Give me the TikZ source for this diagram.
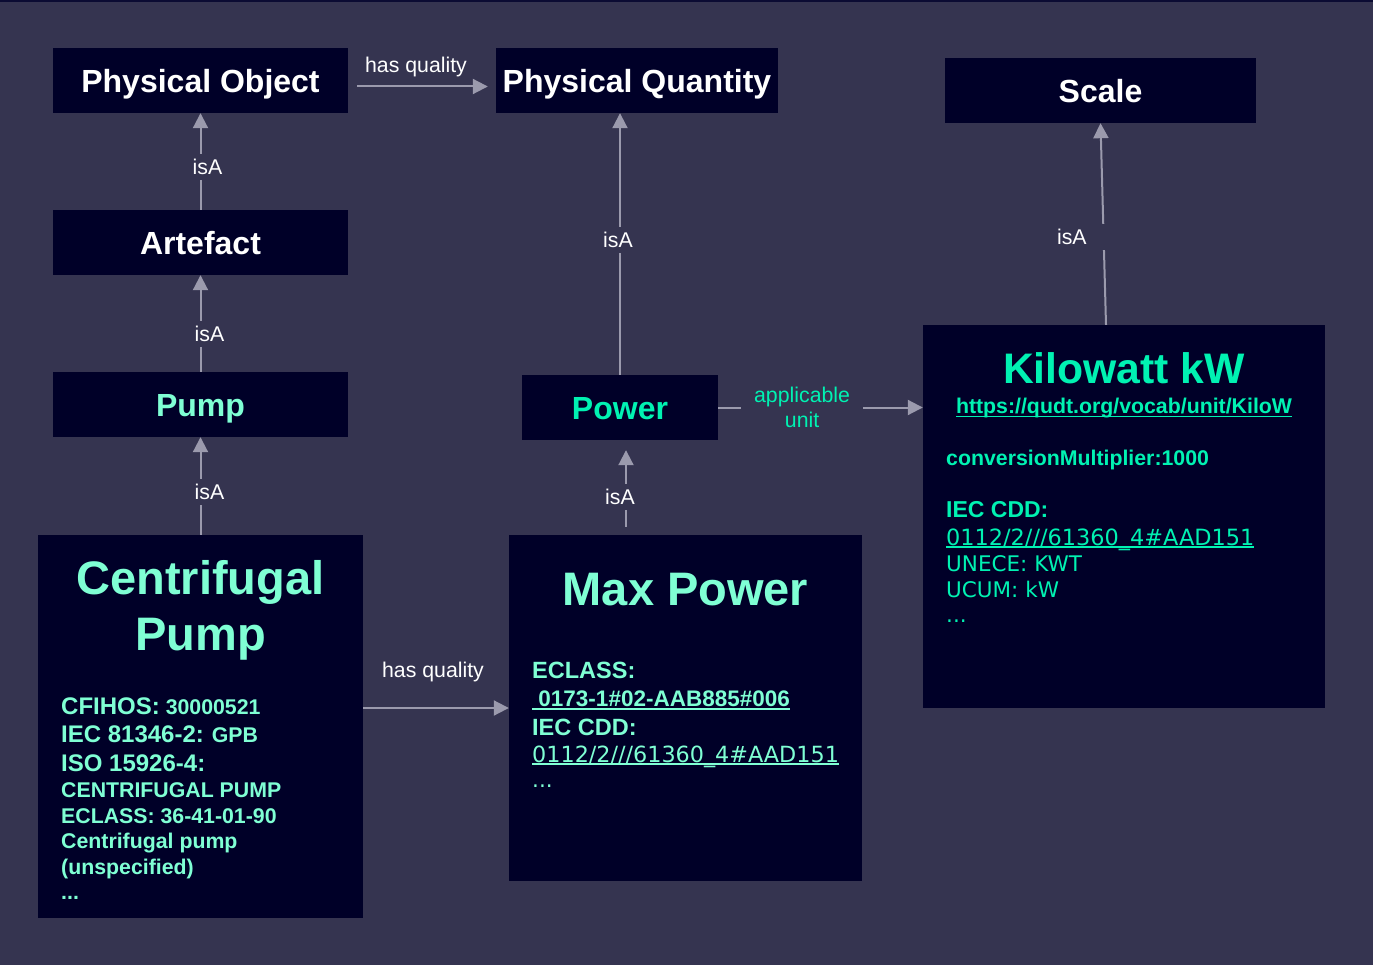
\documentclass[tikz,border=0pt]{standalone}
\usepackage{fontspec}
\setmainfont{Liberation Sans}
\newfontfamily\vfont{DejaVu Sans}
\usetikzlibrary{arrows.meta,calc}

\definecolor{bgc}{HTML}{353450}
\definecolor{boxc}{HTML}{000028}
\definecolor{edgec}{HTML}{0B0B33}
\definecolor{linkc}{HTML}{9B9AAD}
\definecolor{aqua}{HTML}{7FFFD4}
\definecolor{mint}{HTML}{00F2B2}

% font size shortcut: \sz{size}{baselineskip}
\newcommand\sz[2]{\fontsize{#1}{#2}\selectfont}
% underlined link text: \ulink[drop below baseline]{text}
\newcommand\ulink[2][2.5pt]{\leavevmode\setbox0\hbox{#2}\rlap{\rule[-#1]{\wd0}{1.4pt}}\box0}

\begin{document}
\begin{tikzpicture}[x=1pt,y=-1pt,
  box/.style={fill=boxc, inner sep=0pt},
  title/.style={font=\bfseries\sz{32}{36}, text=white, text height=24.5pt, text depth=0pt},
  arr/.style={draw=linkc, line width=2pt, -{Triangle[length=15pt,width=15pt]}},
  lbl/.style={font=\sz{21.3}{25}, text=white, fill=bgc, inner xsep=3pt, inner ysep=5pt},
  qual/.style={font=\sz{21.3}{25}, text=white, anchor=base},
]
\fill[bgc] (0,0) rectangle (1373,965);
\useasboundingbox (0,0) rectangle (1373,965);
\fill[edgec] (0,0) rectangle (1373,2);

% class boxes
\node[box, title, minimum width=295pt, minimum height=65pt] (po) at (200.5,80.5) {Physical Object};
\node[box, title, minimum width=282pt, minimum height=65pt] (pq) at (637,80.5) {Physical Quantity};
\node[box, title, minimum width=311pt, minimum height=65pt] (scale) at (1100.5,90.5) {Scale};
\node[box, title, minimum width=295pt, minimum height=65pt] (art) at (200.5,242.5) {Artefact};
\node[box, title, text=aqua, minimum width=295pt, minimum height=65pt] (pump) at (200.5,404.5) {Pump};
\node[box, title, text=mint, minimum width=196pt, minimum height=65pt] (power) at (620,407.5) {Power};

% detail boxes
\node[box, minimum width=325pt, minimum height=383pt] (cp) at (200.5,726.5) {};
\node[box, minimum width=353pt, minimum height=346pt] (mp) at (685.5,708) {};
\node[box, minimum width=402pt, minimum height=383pt] (kw) at (1124,516.5) {};

% Centrifugal Pump
\node[anchor=base, text=aqua, font=\bfseries, inner sep=0pt] (cpt) at (200.5,594)
  {\parbox[t]{320pt}{\centering\sz{47}{56}Centrifugal\\Pump}};
\node[anchor=base west, text=aqua, font=\bfseries, inner sep=0pt] (cpb) at (61,714)
  {\parbox[t]{295pt}{\raggedright\sz{21.3}{25.5}%
  {\sz{24}{25.5}CFIHOS:} 30000521\\[2.5pt]
  {\sz{24}{25.5}IEC 81346-2:} GPB\\[4pt]
  {\sz{24}{25.5}ISO 15926-4:}\\[0.5pt]
  CENTRIFUGAL PUMP\\
  ECLASS: 36-41-01-90\\
  Centrifugal pump\\
  (unspecified)\\
  ...}};

% Max Power
\node[anchor=base, text=aqua, font=\bfseries\sz{47}{56}, inner sep=0pt] (mpt) at (685.5,605) {Max Power};
\node[anchor=base west, text=aqua, inner sep=0pt] (mpb) at (532,678)
  {\parbox[t]{325pt}{\raggedright\sz{23.5}{27}%
  \textbf{ECLASS:}\\[1pt]
  {\bfseries\sz{22.5}{27}\ulink[3.5pt]{\ 0173-1\#02-AAB885\#006}}\\[2pt]
  \textbf{IEC CDD:}\\
  {\vfont\sz{22.3}{27}\ulink[2.5pt]{0112/2///61360\_4\#AAD151}}\\[-2pt]
  {\vfont\sz{21.5}{27}...}}};

% Kilowatt
\node[anchor=base, text=mint, font=\bfseries\sz{42.7}{48}, inner sep=0pt] (kwt) at (1124,383) {Kilowatt kW};
\node[anchor=base, text=mint, font=\bfseries\sz{21.3}{25}, inner sep=0pt] (kwu) at (1124,413)
  {\ulink[4pt]{https://qudt.org/vocab/unit/KiloW}};
\node[anchor=base west, text=mint, inner sep=0pt] (kwb) at (946,465)
  {\parbox[t]{370pt}{\raggedright\sz{21.3}{26}%
  \textbf{conversionMultiplier:1000}\\[26pt]
  {\bfseries\sz{23}{26}IEC CDD:}\\[2pt]
  {\vfont\sz{22.4}{26}\ulink{0112/2///61360\_4\#AAD151}}\\
  {\vfont\sz{21.5}{26}UNECE: KWT}\\
  {\vfont\sz{21.5}{26}UCUM: kW}\\[-1pt]
  {\vfont\sz{21.5}{26}...}}};

% isA links
\draw[arr] (art.north) -- node[lbl, pos=0.44, xshift=7pt] (l1) {isA} (po.south);
\draw[arr] (pump.north) -- node[lbl, pos=0.39, xshift=9pt] (l2) {isA} (art.south);
\draw[arr] (cp.north) -- node[lbl, pos=0.44, xshift=9pt] (l3) {isA} (pump.south);
\draw[arr] (power.north) -- node[lbl, pos=0.515, xshift=-2pt] (l4) {isA} (power.north |- pq.south);
\draw[arr, shorten <=8pt, shorten >=10pt] ($(power.south |- mp.north)+(6,0)$)
  -- node[lbl, pos=0.4, xshift=-6pt] (l5) {isA} ($(power.south)+(6,0)$);
\draw[arr] ($(kw.north)+(-18,0)$)
  -- node[lbl, pos=0.435, anchor=east, inner xsep=18pt, xshift=2pt] (l6) {isA} (scale.south);

% has quality links
\draw[arr, shorten <=9pt, shorten >=8pt] ($(po.east)+(0,6)$)
  -- node[qual, pos=0.5, xshift=-6pt, yshift=14pt] (hq1) {has quality} ($(pq.west)+(0,6)$);
\draw[arr] (mp.west -| cp.east)
  -- node[qual, pos=0.5, xshift=-3pt, yshift=31pt] (hq2) {has quality} (mp.west);

% applicable unit link
\draw[arr] (power.east)
  -- node[pos=0.41, fill=bgc, text=mint, font=\sz{21.3}{25}, align=center, inner xsep=13pt, inner ysep=2pt] (au) {applicable\\unit}
  (power.east -| kw.west);
\end{tikzpicture}
\end{document}
